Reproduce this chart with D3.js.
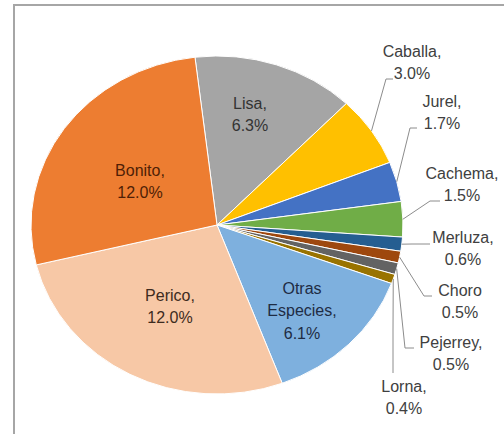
<!DOCTYPE html>
<html>
<head>
<meta charset="utf-8">
<script src="https://cdn.jsdelivr.net/npm/d3@7"></script>
<style>
  body { margin: 0; background: #fff; }
  svg { display: block; font-family: "Liberation Sans", Arial, sans-serif; }
</style>
</head>
<body>
<svg width="504" height="434"></svg>
<script>
// data, clockwise from just left of 12 o'clock
var species = ["Lisa", "Caballa", "Jurel", "Cachema", "Merluza", "Choro", "Pejerrey", "Lorna", "Otras Especies", "Perico", "Bonito"];
var shares = [6.3, 3.0, 1.7, 1.5, 0.6, 0.5, 0.5, 0.4, 6.1, 12.0, 12.0];
var labelLines = [
    ["Lisa,", "6.3%"],
    ["Caballa,", "3.0%"],
    ["Jurel,", "1.7%"],
    ["Cachema,", "1.5%"],
    ["Merluza,", "0.6%"],
    ["Choro", "0.5%"],
    ["Pejerrey,", "0.5%"],
    ["Lorna,", "0.4%"],
    ["Otras", "Especies,", "6.1%"],
    ["Perico,", "12.0%"],
    ["Bonito,", "12.0%"]
];
var colors = ["#a5a5a5", "#ffc000", "#4472c4", "#70ad47", "#255e91", "#9e480e", "#636363", "#997300", "#7eb0de", "#f7c8a6", "#ed7d31"];
var textColors = ["#333", "#404040", "#404040", "#404040", "#404040", "#404040", "#404040", "#404040", "#1e2c44", "#3d2b20", "#4f1f06"];

// label layout: centre of block [x, y of first line], leader [elbow, end] or null
var labelLayout = [
    {x: 250, y: 103, leader: null},
    {x: 412, y: 51, leader: [[386, 79], [393, 79]]},
    {x: 442, y: 101, leader: [[410, 128], [417, 128]]},
    {x: 462, y: 173, leader: [[430, 201], [440, 201]]},
    {x: 463, y: 237, leader: [[412, 244], [430, 244]]},
    {x: 460, y: 290, leader: [[424, 296], [432, 296]]},
    {x: 451, y: 342, leader: [[405, 348], [414, 348]]},
    {x: 404, y: 386, leader: [[393, 330], [393, 373]]},
    {x: 302, y: 288, leader: null},
    {x: 170, y: 295, leader: null},
    {x: 140, y: 170, leader: null}
];

var svg = d3.select("svg");

var cx = 217, cy = 225;
var rx = 186, ry = 169;
var lineH = 22.5;

// chart frame
svg.append("path")
    .attr("d", "M14,434 L14,5 L504,5")
    .attr("fill", "none")
    .attr("stroke", "#a6a6a6")
    .attr("stroke-width", 2);

var start = -6.8 * Math.PI / 180;
var pie = d3.pie()
    .sort(null)
    .value(function(d) { return d; })
    .startAngle(start)
    .endAngle(start + 2 * Math.PI);

var arcs = pie(shares);

var arc = d3.arc()
    .innerRadius(0)
    .outerRadius(ry);

// SLICES (drawn on a circle, squashed into the ellipse)
svg.append("g")
    .attr("transform", "translate(" + cx + "," + cy + ") scale(" + (rx / ry) + ",1)")
    .selectAll("path")
    .data(arcs)
    .enter()
    .append("path")
    .attr("d", arc)
    .attr("fill", function(d, i) { return colors[i]; })
    .attr("stroke", "#fff")
    .attr("stroke-width", 1)
    .attr("vector-effect", "non-scaling-stroke");

function edgePoint(a) {
    return [cx + rx * Math.sin(a), cy - ry * Math.cos(a)];
}

// LEADER LINES
svg.append("g")
    .selectAll("path")
    .data(arcs.filter(function(d, i) { return labelLayout[i].leader; }))
    .enter()
    .append("path")
    .attr("d", function(d) {
        var lay = labelLayout[d.index];
        var p = edgePoint((d.startAngle + d.endAngle) / 2);
        return d3.line()([p].concat(lay.leader));
    })
    .attr("fill", "none")
    .attr("stroke", "#8c8c8c")
    .attr("stroke-width", 1);

// LABELS
var labels = svg.append("g")
    .selectAll("text")
    .data(arcs)
    .enter()
    .append("text")
    .attr("text-anchor", "middle")
    .attr("font-size", 16)
    .attr("fill", function(d, i) { return textColors[i]; });

labels.selectAll("tspan")
    .data(function(d) {
        return labelLines[d.index].map(function(t, j) { return {t: t, j: j, i: d.index}; });
    })
    .enter()
    .append("tspan")
    .attr("x", function(d) { return labelLayout[d.i].x; })
    .attr("y", function(d) { return labelLayout[d.i].y + d.j * lineH; })
    .attr("dy", "0.35em")
    .text(function(d) { return d.t; });
</script>
</body>
</html>
